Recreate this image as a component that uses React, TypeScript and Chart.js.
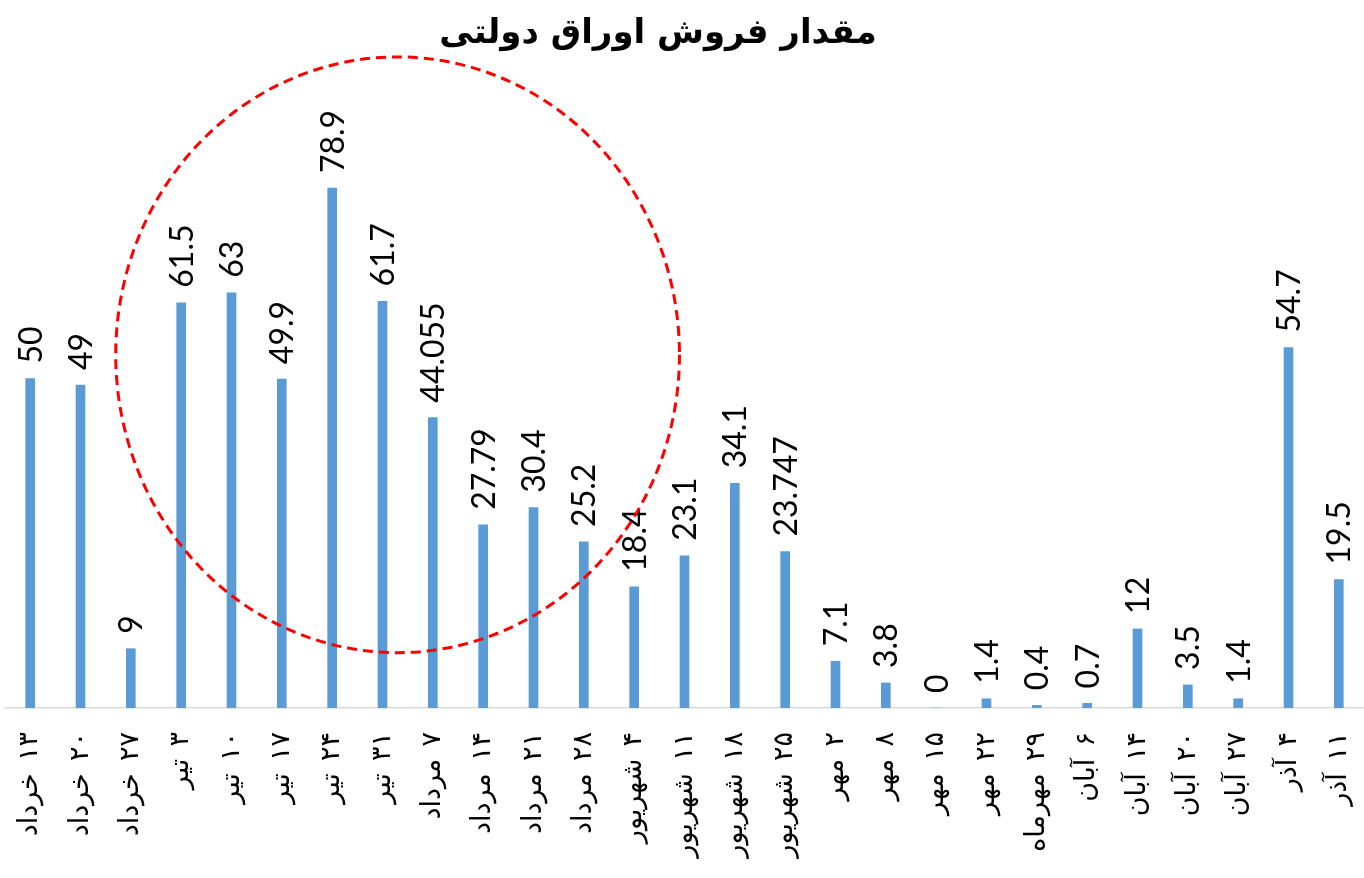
import { useEffect, useRef } from "react";
import { Chart, registerables } from "chart.js";

Chart.register(...registerables);

const categories: string[] = [
  "۱۳ خرداد", "۲۰ خرداد", "۲۷ خرداد",
  "۳ تیر", "۱۰ تیر", "۱۷ تیر", "۲۴ تیر", "۳۱ تیر",
  "۷ مرداد", "۱۴ مرداد", "۲۱ مرداد", "۲۸ مرداد",
  "۴ شهریور", "۱۱ شهریور", "۱۸ شهریور", "۲۵ شهریور",
  "۲ مهر", "۸ مهر", "۱۵ مهر", "۲۲ مهر", "۲۹ مهرماه",
  "۶ آبان", "۱۴ آبان", "۲۰ آبان", "۲۷ آبان",
  "۴ آذر", "۱۱ آذر",
];

const values: number[] = [
  50, 49, 9,
  61.5, 63, 49.9, 78.9, 61.7,
  44.055, 27.79, 30.4, 25.2,
  18.4, 23.1, 34.1, 23.747,
  7.1, 3.8, 0, 1.4, 0.4,
  0.7, 12, 3.5, 1.4,
  54.7, 19.5,
];

const titleText = "مقدار فروش اوراق دولتی";

// highlight ellipse, expressed in data units (category index, value)
const highlightCenter = [7.3, 53.6];
const highlightRadii = [5.6, 45.2];

const TICK_LETTER_SPACING = "3.6px";

const letterSpacingPlugin = {
  id: "tickLetterSpacing",
  beforeLayout(chart: any) {
    (chart.ctx as any).letterSpacing = TICK_LETTER_SPACING;
  },
  beforeDraw(chart: any) {
    (chart.ctx as any).letterSpacing = TICK_LETTER_SPACING;
  },
};

const titlePlugin = {
  id: "customTitle",
  afterDraw(chart: any) {
    const ctx = chart.ctx as CanvasRenderingContext2D;
    ctx.save();
    (ctx as any).letterSpacing = "0px";
    ctx.font = "bold 34px 'DejaVu Sans', sans-serif";
    ctx.fillStyle = "#000000";
    ctx.textAlign = "center";
    ctx.textBaseline = "middle";
    ctx.fillText(titleText, chart.width / 2 - 24, 34);
    ctx.restore();
  },
};

const valueLabelPlugin = {
  id: "valueLabels",
  afterDatasetsDraw(chart: any) {
    const ctx = chart.ctx as CanvasRenderingContext2D;
    const meta = chart.getDatasetMeta(0);
    ctx.save();
    (ctx as any).letterSpacing = "0px";
    ctx.font = "32px Lato, 'DejaVu Sans', sans-serif";
    ctx.fillStyle = "#000000";
    ctx.textAlign = "left";
    ctx.textBaseline = "alphabetic";
    meta.data.forEach((el: any, i: number) => {
      ctx.save();
      ctx.translate(el.x, el.y - 15);
      ctx.rotate(-Math.PI / 2);
      ctx.fillText(String(values[i]), 0, 11.5);
      ctx.restore();
    });
    ctx.restore();
  },
};

const ellipsePlugin = {
  id: "highlightEllipse",
  afterDatasetsDraw(chart: any) {
    const ctx = chart.ctx as CanvasRenderingContext2D;
    const xs = chart.scales.x;
    const ys = chart.scales.y;
    const cx = xs.getPixelForValue(highlightCenter[0]);
    const cy = ys.getPixelForValue(highlightCenter[1]);
    const rx = Math.abs(xs.getPixelForValue(highlightCenter[0] + highlightRadii[0]) - cx);
    const ry = Math.abs(ys.getPixelForValue(highlightCenter[1] + highlightRadii[1]) - cy);
    ctx.save();
    ctx.beginPath();
    ctx.ellipse(cx, cy, rx, ry, 0, 0, Math.PI * 2);
    ctx.setLineDash([10, 6]);
    ctx.lineWidth = 3;
    ctx.strokeStyle = "#FF0000";
    ctx.stroke();
    ctx.restore();
  },
};

export default function App() {
  const ref = useRef<HTMLCanvasElement | null>(null);

  useEffect(() => {
    document.body.style.margin = "0";
    const canvas = ref.current;
    if (!canvas) return;
    const chart = new Chart(canvas, {
      type: "bar",
      data: {
        labels: categories,
        datasets: [
          {
            data: values,
            backgroundColor: "#5B9BD5",
            barThickness: 9,
          },
        ],
      },
      plugins: [letterSpacingPlugin, valueLabelPlugin, ellipsePlugin, titlePlugin],
      options: {
        responsive: false,
        animation: false,
        layout: { padding: { left: 5, right: 0, top: 49, bottom: 0 } },
        plugins: {
          legend: { display: false },
          tooltip: { enabled: false },
          title: { display: false },
        },
        scales: {
          x: {
            grid: { display: false, drawTicks: false },
            border: { display: true, color: "#D9D9D9", width: 1.5 },
            ticks: {
              autoSkip: false,
              minRotation: 90,
              maxRotation: 90,
              padding: 24,
              color: "#000000",
              font: { family: "'DejaVu Sans', sans-serif", size: 27 },
            },
            afterFit: (scale: any) => {
              scale.height = 170;
              scale.paddingLeft = 0;
              scale.paddingRight = 0;
            },
          },
          y: { display: false, min: 0, max: 100 },
        },
      },
    } as any);
    return () => chart.destroy();
  }, []);

  return (
    <canvas
      ref={ref}
      width={1364}
      height={878}
      dir="rtl"
      style={{ display: "block", direction: "rtl" }}
    />
  );
}
